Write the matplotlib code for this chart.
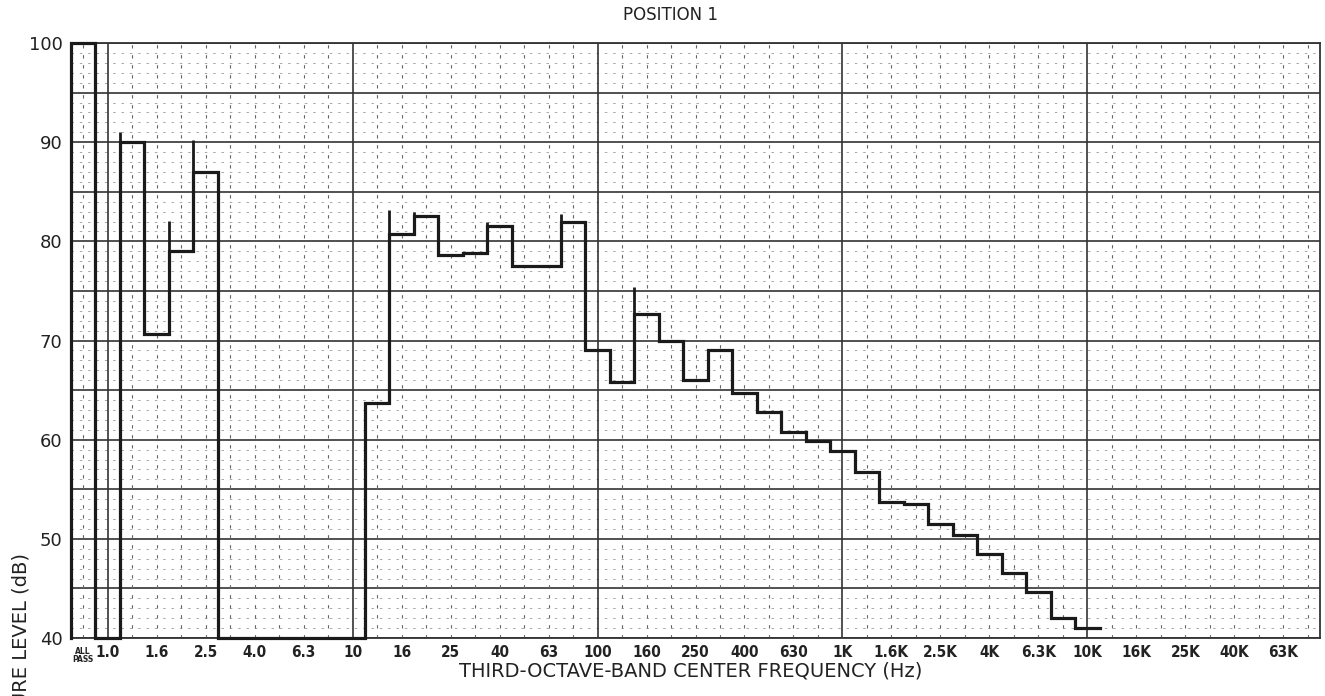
import numpy as np
import matplotlib.pyplot as plt

# third-octave bands, index -1 is the "all pass" reading
bands = ["ALL PASS", "1.0", "1.25", "1.6", "2.0", "2.5", "3.15", "4.0", "5.0",
         "6.3", "8.0", "10", "12.5", "16", "20", "25", "31.5", "40", "50",
         "63", "80", "100", "125", "160", "200", "250", "315", "400", "500",
         "630", "800", "1K", "1.25K", "1.6K", "2K", "2.5K", "3.15K", "4K",
         "5K", "6.3K", "8K", "10K", "12.5K", "16K", "20K", "25K", "31.5K",
         "40K", "50K", "63K", "80K"]

# measured levels (dB), ALL PASS up to 10K
levels = [100, 40, 90.0, 70.7, 79.0, 87.0, 40, 40, 40, 40, 40, 40,
          63.7, 80.7, 82.6, 78.6, 78.8, 81.5, 77.5, 77.5, 81.9, 69.0,
          65.8, 72.7, 70.0, 66.0, 69.0, 64.7, 62.8, 60.8, 59.9, 58.9,
          56.7, 53.7, 53.5, 51.5, 50.4, 48.5, 46.6, 44.6, 42.0, 41.0]

# pen overshoot at the start of some bands
spike_bands = ["1.25", "2.0", "2.5", "16", "20", "40", "80", "160"]
spike_peaks = [91.0, 82.1, 90.2, 83.2, 83.0, 82.0, 82.8, 75.4]

tick_labels = ["1.0", "1.6", "2.5", "4.0", "6.3", "10", "16", "25", "40", "63",
               "100", "160", "250", "400", "630", "1K", "1.6K", "2.5K", "4K",
               "6.3K", "10K", "16K", "25K", "40K", "63K"]

ylo, yhi = 40, 100

pos = {b: i - 1 for i, b in enumerate(bands)}

fig = plt.figure(figsize=(13.25, 6.96), dpi=100)
ax = fig.add_axes([71 / 1325, 58 / 696, 1249 / 1325, 595 / 696])
ax.set_xlim(-1.5, len(bands) - 1.5)
ax.set_ylim(ylo, yhi)

# chart paper grid
for y in range(ylo, yhi + 1):
    if y % 5 == 0:
        ax.axhline(y, color="#333333", lw=1.2, zorder=1)
    else:
        ax.axhline(y, color="#9a9a9a", lw=0.6, ls=(0, (3, 7)), zorder=1)
for b in bands:
    k = pos[b]
    if k >= 0 and k % 10 == 0:
        ax.axvline(k, color="#333333", lw=1.2, zorder=1)
    else:
        ax.axvline(k, color="#666666", lw=0.8, ls=(0, (3, 6)), zorder=1)

# the trace
n = len(levels)
edges = np.arange(n + 1) - 1.5
xs = np.concatenate([[edges[0], edges[0]], np.repeat(edges[1:n], 2), [edges[n]]])
ys = np.concatenate([[ylo], np.repeat(levels, 2)])
ax.plot(xs, ys, color="#1a1a1a", lw=2.3, solid_joinstyle="miter",
        clip_on=False, zorder=3)

lev = dict(zip(bands, levels))
for b, p in zip(spike_bands, spike_peaks):
    ax.vlines(pos[b] - 0.5, lev[b], p, color="#1a1a1a", lw=2.0, zorder=3)

for s in ax.spines.values():
    s.set_color("#333333")
    s.set_linewidth(1.3)

ax.set_yticks(range(ylo, yhi + 1, 10))
ax.tick_params(axis="y", length=0, pad=6, labelsize=13, labelcolor="#222222")
ax.set_xticks([pos[t] for t in tick_labels])
ax.set_xticklabels(tick_labels, family=["Liberation Sans Narrow", "DejaVu Sans"],
                   fontstretch="condensed", fontweight="bold", fontsize=11,
                   color="#222222")
ax.tick_params(axis="x", length=0, pad=5)
ax.text(pos["ALL PASS"], ylo - 0.9, "ALL\nPASS", ha="center", va="top",
        fontsize=5.5, fontweight="bold", color="#222222", linespacing=0.9)

fig.text(0.506, 0.978, "POSITION 1", ha="center", va="center", fontsize=12,
         color="#222222")
fig.text(0.521, 0.036, "THIRD-OCTAVE-BAND CENTER FREQUENCY (Hz)", ha="center",
         va="center", fontsize=14, color="#222222")
fig.text(0.016, 0.2055, "SOUND PRESSURE LEVEL (dB)", rotation=90, ha="center",
         va="top", fontsize=14, color="#222222")

fig.savefig("out.png", dpi=100)
